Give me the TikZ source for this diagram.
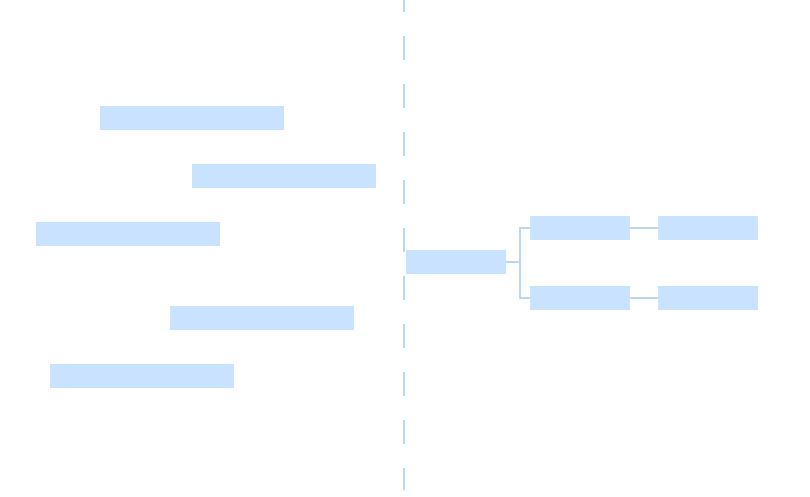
\documentclass[tikz,border=0pt]{standalone}
\usetikzlibrary{positioning}

\definecolor{boxfill}{HTML}{C8E2FF}
\definecolor{linkblue}{HTML}{BBD7EF}

\tikzset{
    bar/.style={fill=boxfill, draw=none, rectangle, inner sep=0pt, minimum width=184pt, minimum height=24pt},
    leaf/.style={fill=boxfill, draw=none, rectangle, inner sep=0pt, minimum width=100pt, minimum height=24pt},
    link/.style={draw=linkblue, line width=1.5pt},
    divider/.style={draw=linkblue, line width=2pt, dash pattern=on 24pt off 24pt, dash phase=12pt}
}

\begin{document}
\begin{tikzpicture}[x=1pt, y=-1pt, node distance=28pt]
    \useasboundingbox (0,0) rectangle (810,496);

    % left column
    \node (barA) [bar] at (192,118) {};
    \node (barB) [bar] at (284,176) {};
    \node (barC) [bar] at (128,234) {};
    \node (barD) [bar] at (262,318) {};
    \node (barE) [bar] at (142,376) {};

    % divider
    \coordinate (top) at (404,0);
    \coordinate (bottom) at (404,490);
    \draw[divider] (top) -- (bottom);

    % right tree
    \node (root) [leaf] at (456,262) {};
    \node (kidA) [leaf] at (580,228) {};
    \node (kidB) [leaf] at (580,298) {};
    \node (grandA) [leaf, right=of kidA] {};
    \node (grandB) [leaf, right=of kidB] {};

    \draw[link] (root.east) -- ++(14,0) |- (kidA.west);
    \draw[link] (root.east) -- ++(14,0) |- (kidB.west);
    \draw[link] (kidA) -- (grandA);
    \draw[link] (kidB) -- (grandB);
\end{tikzpicture}
\end{document}
